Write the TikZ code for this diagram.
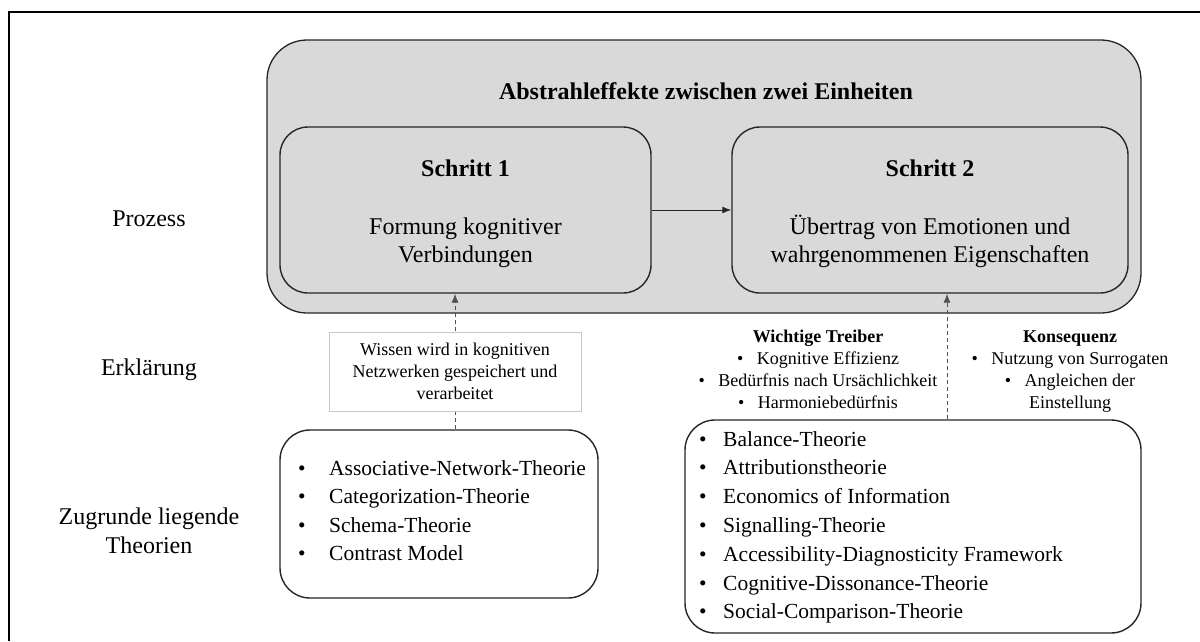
\documentclass[tikz,border=0pt]{standalone}
\usepackage{fontspec}
\setmainfont{Liberation Serif}
\usetikzlibrary{arrows.meta}
\definecolor{panelgray}{HTML}{D9D9D9}
\definecolor{edgegray}{HTML}{C8C8C8}
\definecolor{linedark}{HTML}{262626}
\begin{document}
\begin{tikzpicture}[x=1pt,y=-1pt,
  frame/.style={line width=2pt, black},
  panel/.style={draw=linedark, line width=1.3pt, fill=panelgray, rounded corners=40pt, inner sep=0pt},
  stepbox/.style={draw=linedark, line width=1.4pt, fill=panelgray, rounded corners=28pt, inner sep=0pt},
  theorybox/.style={draw=linedark, line width=1.4pt, fill=white, rounded corners=30pt, inner sep=0pt},
  notebox/.style={draw=edgegray, line width=0.8pt, fill=white, inner sep=0pt},
  big/.style={inner sep=0pt, anchor=base, font=\fontsize{24}{28.8}\selectfont},
  bigbold/.style={inner sep=0pt, anchor=base, font=\fontsize{24}{28.8}\selectfont\bfseries},
  small/.style={inner sep=0pt, anchor=base, font=\fontsize{18}{21.6}\selectfont},
  smallbold/.style={inner sep=0pt, anchor=base, font=\fontsize{18}{21.6}\selectfont\bfseries},
  dot/.style={inner sep=0pt, anchor=base, font=\fontsize{21.5}{26}\selectfont},
  item/.style={inner sep=0pt, anchor=base west, font=\fontsize{21.5}{26}\selectfont},
  arr/.style={draw=linedark, line width=1pt, -{Latex[length=9pt,width=7pt]}},
  dasharr/.style={draw=linedark!80, line width=0.8pt, dash pattern=on 4pt off 3pt, -{Latex[length=9pt,width=7pt]}}
]
\useasboundingbox (0,0) rectangle (1200,641);
\clip (0,0) rectangle (1200,641);

% open frame around the figure
\draw[frame] (9,641) -- (9,12) -- (1200,12);

% process panel with its two steps
\node[panel, minimum width=874pt, minimum height=273pt] (abstr) at (704,176.5) {};
\node[bigbold] (title) at (706,99) {Abstrahleffekte zwischen zwei Einheiten};

\node[stepbox, minimum width=371pt, minimum height=166pt] (s1) at (465.5,210) {};
\node[stepbox, minimum width=396pt, minimum height=166pt] (s2) at (930,210) {};

\node[bigbold] (s1h) at (465.5,176) {Schritt 1};
\node[big] (s1a) at (465.5,234) {Formung kognitiver};
\node[big] (s1b) at (465.5,262) {Verbindungen};

\node[bigbold] (s2h) at (930,176) {Schritt 2};
\node[big] (s2a) at (930,234) {Übertrag von Emotionen und};
\node[big] (s2b) at (930,262) {wahrgenommenen Eigenschaften};

\draw[arr] (s1.east) -- (s2.west);

% theory boxes
\node[theorybox, minimum width=318pt, minimum height=168pt] (lt) at (439,514) {};
\node[theorybox, minimum width=456pt, minimum height=213pt] (rt) at (913,526.5) {};

% explanation links
\draw[dasharr] ([xshift=16pt]lt.north) -- ([xshift=16pt]lt.north |- s1.south);
\draw[dasharr] ([xshift=34pt]rt.north) -- ([xshift=34pt]rt.north |- s2.south);

\node[notebox, minimum width=252pt, minimum height=79pt] (expl) at (455,371.5) {};
\node[small] (e1) at (455,355) {Wissen wird in kognitiven};
\node[small] (e2) at (455,377) {Netzwerken gespeichert und};
\node[small] (e3) at (455,399) {verarbeitet};

% drivers and consequences
\node[smallbold] (d0) at (818,342) {Wichtige Treiber};
\node[small] (d1) at (818,364) {•\hspace{0.75em}Kognitive Effizienz};
\node[small] (d2) at (818,386) {•\hspace{0.75em}Bedürfnis nach Ursächlichkeit};
\node[small] (d3) at (818,408) {•\hspace{0.75em}Harmoniebedürfnis};

\node[smallbold] (k0) at (1070,342) {Konsequenz};
\node[small] (k1) at (1070,364) {•\hspace{0.75em}Nutzung von Surrogaten};
\node[small] (k2) at (1070,386) {•\hspace{0.75em}Angleichen der};
\node[small] (k3) at (1070,408) {Einstellung};

% theory lists
\foreach \t [count=\i from 0] in {Associative-Network-Theorie, Categorization-Theorie, Schema-Theorie, Contrast Model} {
  \node[dot] (lb\i) at (302,475+28.5*\i) {•};
  \node[item] (li\i) at (329,475+28.5*\i) {\t};
}
\foreach \t [count=\i from 0] in {Balance-Theorie, Attributionstheorie, Economics of Information, Signalling-Theorie, Accessibility-Diagnosticity Framework, Cognitive-Dissonance-Theorie, Social-Comparison-Theorie} {
  \node[dot] (rb\i) at (703,446+28.8*\i) {•};
  \node[item] (ri\i) at (723,446+28.8*\i) {\t};
}

% row labels
\node[big] (lp) at (149,226) {Prozess};
\node[big] (le) at (149,375) {Erklärung};
\node[big] (lz1) at (149,524) {Zugrunde liegende};
\node[big] (lz2) at (149,553) {Theorien};
\end{tikzpicture}
\end{document}
